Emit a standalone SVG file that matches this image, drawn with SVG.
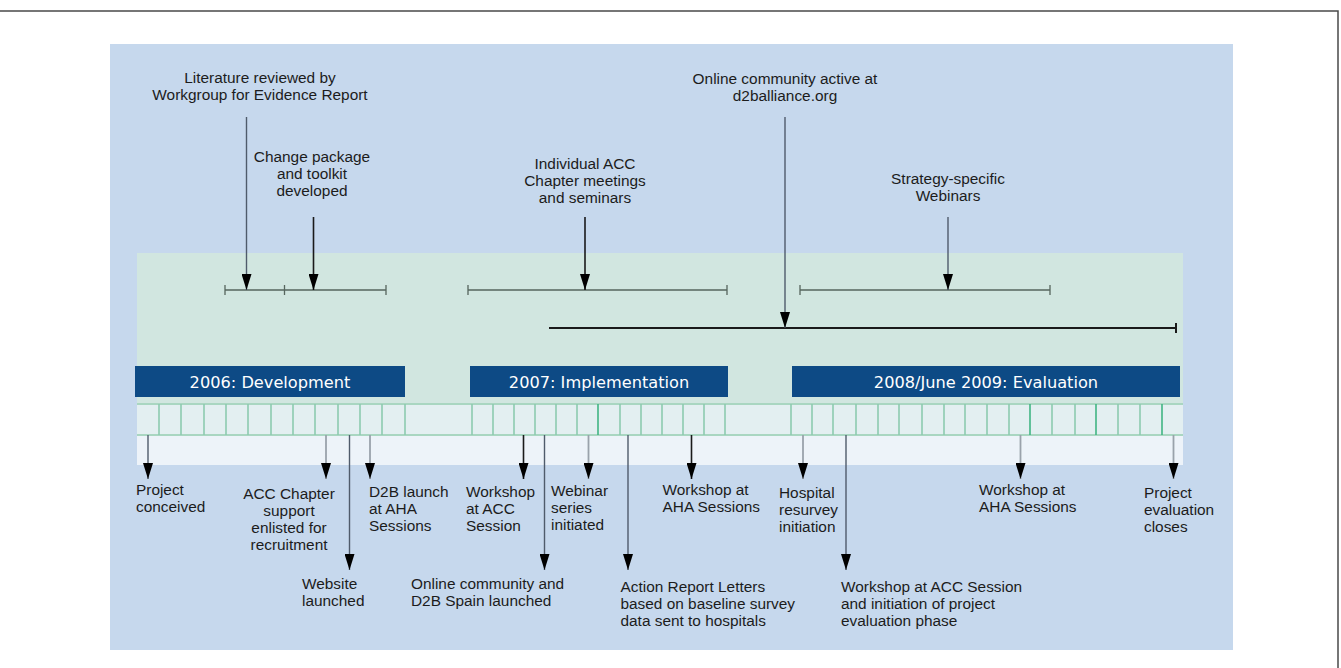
<svg xmlns="http://www.w3.org/2000/svg" width="1341" height="668" viewBox="0 0 1341 668">
<defs>
<style>
.t{font-family:"Liberation Sans",Arial,sans-serif;font-size:15.4px;fill:#1c1c1c}
.m{text-anchor:middle}
.h{font-family:"DejaVu Sans",Verdana,sans-serif;font-size:16.2px;fill:#ffffff;text-anchor:middle}
.bar{fill:#0d4a85}
.tk{stroke:#8dcbb0;stroke-width:1.6}
.tkd{stroke:#40b584;stroke-width:1.6}
.br{stroke:#56665e;stroke-width:1.3;fill:none}
.ln{stroke:#4f5b6b;stroke-width:1.4;fill:none;marker-end:url(#ah)}
.lg{stroke:#9aa2ab;stroke-width:1.8;fill:none;marker-end:url(#ah)}
.lk{stroke:#1a1a1a;stroke-width:1.6;fill:none;marker-end:url(#ah)}
</style>
<marker id="ah" viewBox="0 0 16 10" refX="16" refY="5" markerUnits="userSpaceOnUse" markerWidth="16" markerHeight="10" orient="auto">
<path d="M0,0 L16,5 L0,10 z" fill="#000"/>
</marker>
</defs>
<rect width="1341" height="668" fill="#ffffff"/>
<path d="M0,11 H1338 V668" fill="none" stroke="#4a4a4a" stroke-width="1.5"/>
<rect x="110" y="44" width="1123" height="606" fill="#c6d8ed"/>
<rect x="137" y="253" width="1046" height="151" fill="#d1e6e0"/>
<rect x="137" y="404" width="1046" height="31" fill="#e3eff1"/>
<rect x="137" y="435" width="1046" height="30" fill="#edf3f9"/>

<g id="strip">
<line x1="137" y1="404" x2="1183" y2="404" stroke="#a9d6c1" stroke-width="2"/>
<line x1="137" y1="435" x2="1183" y2="435" stroke="#a9d6c1" stroke-width="2"/>
<g class="tk">
<line x1="159" y1="404" x2="159" y2="435"/><line x1="181" y1="404" x2="181" y2="435"/><line x1="204" y1="404" x2="204" y2="435"/><line x1="226" y1="404" x2="226" y2="435"/><line x1="248" y1="404" x2="248" y2="435"/><line x1="271" y1="404" x2="271" y2="435"/><line x1="293" y1="404" x2="293" y2="435"/><line x1="315" y1="404" x2="315" y2="435"/><line x1="338" y1="404" x2="338" y2="435"/><line x1="360" y1="404" x2="360" y2="435"/><line x1="382" y1="404" x2="382" y2="435"/><line x1="405" y1="404" x2="405" y2="435"/>
<line x1="472" y1="404" x2="472" y2="435"/><line x1="493" y1="404" x2="493" y2="435"/><line x1="514" y1="404" x2="514" y2="435"/><line x1="535" y1="404" x2="535" y2="435"/><line x1="556" y1="404" x2="556" y2="435"/><line x1="577" y1="404" x2="577" y2="435"/><line x1="620" y1="404" x2="620" y2="435"/><line x1="641" y1="404" x2="641" y2="435"/><line x1="662" y1="404" x2="662" y2="435"/><line x1="683" y1="404" x2="683" y2="435"/><line x1="704" y1="404" x2="704" y2="435"/><line x1="725" y1="404" x2="725" y2="435"/>
<line x1="791" y1="404" x2="791" y2="435"/><line x1="812" y1="404" x2="812" y2="435"/><line x1="833" y1="404" x2="833" y2="435"/><line x1="856" y1="404" x2="856" y2="435"/><line x1="878" y1="404" x2="878" y2="435"/><line x1="899" y1="404" x2="899" y2="435"/><line x1="922" y1="404" x2="922" y2="435"/><line x1="944" y1="404" x2="944" y2="435"/><line x1="965" y1="404" x2="965" y2="435"/><line x1="987" y1="404" x2="987" y2="435"/><line x1="1009" y1="404" x2="1009" y2="435"/><line x1="1052" y1="404" x2="1052" y2="435"/><line x1="1075" y1="404" x2="1075" y2="435"/><line x1="1118" y1="404" x2="1118" y2="435"/><line x1="1140" y1="404" x2="1140" y2="435"/>
</g>
<g class="tkd">
<line x1="598" y1="404" x2="598" y2="435"/><line x1="1030" y1="404" x2="1030" y2="435"/><line x1="1096" y1="404" x2="1096" y2="435"/><line x1="1162" y1="404" x2="1162" y2="435"/>
</g>
</g>

<g id="phase-2006"><rect class="bar" x="135" y="366" width="270" height="31"/><text class="h" x="270" y="387.5">2006: Development</text></g>
<g id="phase-2007"><rect class="bar" x="470" y="366" width="258" height="31"/><text class="h" x="599" y="387.5">2007: Implementation</text></g>
<g id="phase-2008"><rect class="bar" x="792" y="366" width="388" height="31"/><text class="h" x="986" y="387.5">2008/June 2009: Evaluation</text></g>

<g id="ranges">
<path class="br" d="M225,290 H386 M225,285 V295 M284.5,285 V295 M386,285 V295"/>
<path class="br" d="M468,290 H727 M468,285 V295 M727,285 V295"/>
<path class="br" d="M800,290 H1050 M800,285 V295 M1050,285 V295"/>
<path d="M549,328 H1176 M1176,323 V333" stroke="#1a1a1a" stroke-width="2" fill="none"/>
</g>

<g id="connectors">
<line class="ln" x1="246.5" y1="117" x2="246.5" y2="290"/>
<line class="lk" x1="313.5" y1="217" x2="313.5" y2="290"/>
<line class="lk" x1="585" y1="217" x2="585" y2="290"/>
<line class="ln" x1="785" y1="117" x2="785" y2="328"/>
<line class="ln" x1="948" y1="217" x2="948" y2="290"/>

<line class="ln" x1="148" y1="435" x2="148" y2="479"/>
<line class="lg" x1="326" y1="435" x2="326" y2="479"/>
<line class="ln" x1="349.5" y1="435" x2="349.5" y2="570"/>
<line class="lg" x1="370" y1="435" x2="370" y2="479"/>
<line class="lk" x1="523.5" y1="435" x2="523.5" y2="479"/>
<line class="ln" x1="544.5" y1="435" x2="544.5" y2="570"/>
<line class="lg" x1="588.5" y1="435" x2="588.5" y2="479"/>
<line class="ln" x1="628" y1="435" x2="628" y2="570"/>
<line class="lk" x1="691.5" y1="435" x2="691.5" y2="479"/>
<line class="lg" x1="803" y1="435" x2="803" y2="479"/>
<line class="ln" x1="846" y1="435" x2="846" y2="570"/>
<line class="lg" x1="1020.5" y1="435" x2="1020.5" y2="479"/>
<line class="lg" x1="1173.5" y1="435" x2="1173.5" y2="479"/>
</g>

<g id="lit"><text class="t m" x="260" y="83">Literature reviewed by</text><text class="t m" x="260" y="100">Workgroup for Evidence Report</text></g>
<g id="change"><text class="t m" x="312" y="162">Change package</text><text class="t m" x="312" y="179">and toolkit</text><text class="t m" x="312" y="196">developed</text></g>
<g id="indiv"><text class="t m" x="585" y="168.5">Individual ACC</text><text class="t m" x="585" y="185.5">Chapter meetings</text><text class="t m" x="585" y="202.5">and seminars</text></g>
<g id="online-active"><text class="t m" x="785" y="83.5">Online community active at</text><text class="t m" x="785" y="100.5">d2balliance.org</text></g>
<g id="strategy"><text class="t m" x="948" y="183.5">Strategy-specific</text><text class="t m" x="948" y="200.5">Webinars</text></g>

<g id="conceived"><text class="t" x="136" y="494.5">Project</text><text class="t" x="136" y="511.5">conceived</text></g>
<g id="acc-chapter"><text class="t m" x="289" y="499">ACC Chapter</text><text class="t m" x="289" y="516">support</text><text class="t m" x="289" y="533">enlisted for</text><text class="t m" x="289" y="550">recruitment</text></g>
<g id="website"><text class="t" x="302" y="588.5">Website</text><text class="t" x="302" y="605.5">launched</text></g>
<g id="d2b-launch"><text class="t" x="369" y="497">D2B launch</text><text class="t" x="369" y="514">at AHA</text><text class="t" x="369" y="531">Sessions</text></g>
<g id="ws-acc-2007"><text class="t" x="466" y="497">Workshop</text><text class="t" x="466" y="514">at ACC</text><text class="t" x="466" y="531">Session</text></g>
<g id="online-spain"><text class="t" x="411" y="588.5">Online community and</text><text class="t" x="411" y="605.5">D2B Spain launched</text></g>
<g id="webinar"><text class="t" x="551" y="496">Webinar</text><text class="t" x="551" y="513">series</text><text class="t" x="551" y="530">initiated</text></g>
<g id="action"><text class="t" x="620.5" y="591.5">Action Report Letters</text><text class="t" x="620.5" y="608.5">based on baseline survey</text><text class="t" x="620.5" y="625.5">data sent to hospitals</text></g>
<g id="ws-aha-2007"><text class="t" x="662.5" y="495">Workshop at</text><text class="t" x="662.5" y="512">AHA Sessions</text></g>
<g id="resurvey"><text class="t" x="779" y="497.5">Hospital</text><text class="t" x="779" y="514.5">resurvey</text><text class="t" x="779" y="531.5">initiation</text></g>
<g id="ws-acc-2008"><text class="t" x="841" y="591.5">Workshop at ACC Session</text><text class="t" x="841" y="608.5">and initiation of project</text><text class="t" x="841" y="625.5">evaluation phase</text></g>
<g id="ws-aha-2008"><text class="t" x="979" y="495">Workshop at</text><text class="t" x="979" y="512">AHA Sessions</text></g>
<g id="closes"><text class="t" x="1144" y="497.5">Project</text><text class="t" x="1144" y="514.5">evaluation</text><text class="t" x="1144" y="531.5">closes</text></g>
</svg>
